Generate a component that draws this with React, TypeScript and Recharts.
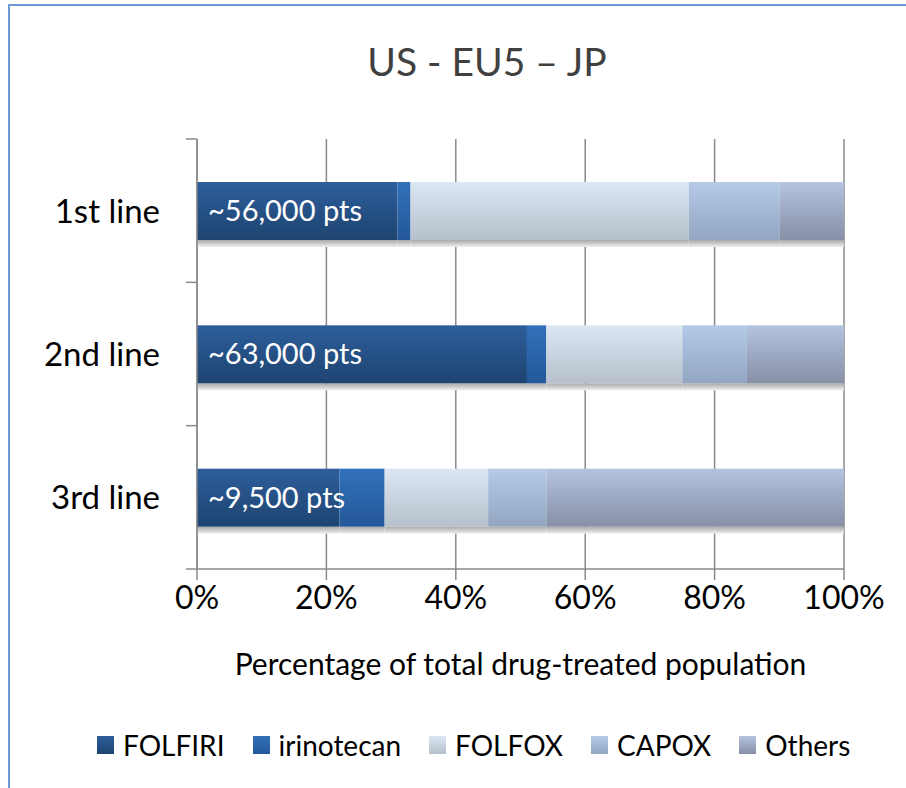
import React from "react";
import { BarChart, Bar, XAxis, YAxis, CartesianGrid, LabelList, Label } from "recharts";

const categories = ["1st line", "2nd line", "3rd line"];
const folfiri = [31, 51, 22];
const irinotecan = [2, 3, 7];
const folfox = [43, 21, 16];
const capox = [14, 10, 9];
const others = [10, 15, 46];
const patientLabels = ["~56,000 pts", "~63,000 pts", "~9,500 pts"];
const xTicks = [0, 20, 40, 60, 80, 100];

const seriesNames = ["FOLFIRI", "irinotecan", "FOLFOX", "CAPOX", "Others"];
const seriesKeys = ["folfiri", "irinotecan", "folfox", "capox", "others"];
const gradients: [string, string][] = [
  ["#2d5e9c", "#1e4470"],
  ["#3171ba", "#24589a"],
  ["#dde7f4", "#b6c0cb"],
  ["#b4cae7", "#92a6c1"],
  ["#b5c3e0", "#868fa6"],
];

const data = categories.map((name, i) => ({
  name,
  folfiri: folfiri[i],
  irinotecan: irinotecan[i],
  folfox: folfox[i],
  capox: capox[i],
  others: others[i],
  label: patientLabels[i],
}));

const FONT = "Lato, 'Open Sans', sans-serif";
const W = 906;
const H = 788;
const PLOT_LEFT = 197;
const PLOT_TOP = 139;
const PLOT_RIGHT = 844;
const PLOT_BOTTOM = 569;
const Y_AXIS_W = 150;
const X_AXIS_H = 60;
const BAND = (PLOT_BOTTOM - PLOT_TOP) / categories.length;
const GRID = "#8a8a8a";

const BarShape = (idx: number) => (props: any) => {
  const { x, y, width, height } = props;
  if (!width || width <= 0) return <g />;
  return (
    <g>
      <rect x={x} y={y + height} width={width} height={7} fill="url(#shadowGrad)" />
      <rect x={x} y={y} width={width} height={height} fill={`url(#grad${idx})`} />
    </g>
  );
};

const YTick = (props: any) => {
  const { y, payload, index } = props;
  const top = y - BAND / 2;
  return (
    <g>
      <line x1={PLOT_LEFT - 11} x2={PLOT_LEFT} y1={top} y2={top} stroke={GRID} strokeWidth={1.5} />
      {index === categories.length - 1 && (
        <line x1={PLOT_LEFT - 11} x2={PLOT_LEFT} y1={top + BAND} y2={top + BAND} stroke={GRID} strokeWidth={1.5} />
      )}
      <text x={160} y={y + 12} textAnchor="end" fontSize={33} fontFamily={FONT} fill="#000">
        {payload.value}
      </text>
    </g>
  );
};

const PtsLabel = (props: any) => {
  const { x, y, height, index } = props;
  return (
    <text x={x + 11} y={y + height / 2 + 10} fontSize={29} fontFamily={FONT} fill="#ffffff">
      {patientLabels[index]}
    </text>
  );
};

const LegendBlock = () => (
  <div
    style={{
      position: "absolute",
      left: 97,
      top: 728,
      display: "flex",
      alignItems: "center",
      fontFamily: FONT,
      fontSize: 28,
      color: "#000",
      whiteSpace: "nowrap",
    }}
  >
    {seriesNames.map((n, i) => (
      <div key={n} style={{ display: "flex", alignItems: "center", marginRight: 28 }}>
        <div
          style={{
            width: 17,
            height: 18,
            marginRight: 9,
            background: `linear-gradient(${gradients[i][0]}, ${gradients[i][1]})`,
          }}
        />
        <span>{n}</span>
      </div>
    ))}
  </div>
);

export default function App() {
  return (
    <div style={{ position: "absolute", left: 0, top: 0, width: W, height: H, overflow: "hidden", background: "#fff" }}>
      <div
        style={{
          position: "absolute",
          left: 8,
          top: 4,
          width: W - 8,
          height: H - 4,
          borderLeft: "2px solid #6c98d6",
          borderTop: "2px solid #6c98d6",
          boxSizing: "border-box",
        }}
      />
      <div
        style={{
          position: "absolute",
          left: 0,
          width: 974,
          top: 38,
          textAlign: "center",
          fontFamily: FONT,
          fontSize: 39,
          color: "#404040",
        }}
      >
        US - EU5 – JP
      </div>
      <div style={{ position: "absolute", left: 0, top: 0 }}>
        <BarChart
          width={W}
          height={H}
          data={data}
          layout="vertical"
          barSize={58}
          margin={{
            top: PLOT_TOP,
            left: PLOT_LEFT - Y_AXIS_W,
            right: W - PLOT_RIGHT,
            bottom: H - PLOT_BOTTOM - X_AXIS_H,
          }}
        >
          <defs>
            {gradients.map((g, i) => (
              <linearGradient key={i} id={`grad${i}`} x1="0" y1="0" x2="0" y2="1">
                <stop offset="0%" stopColor={g[0]} />
                <stop offset="100%" stopColor={g[1]} />
              </linearGradient>
            ))}
            <linearGradient id="shadowGrad" x1="0" y1="0" x2="0" y2="1">
              <stop offset="0%" stopColor="#a8a8a8" />
              <stop offset="100%" stopColor="#f0f0f0" />
            </linearGradient>
          </defs>
          <CartesianGrid horizontal={false} stroke={GRID} strokeWidth={1.5} />
          <XAxis
            type="number"
            domain={[0, 100]}
            ticks={xTicks}
            tickFormatter={(v: number) => `${v}%`}
            height={X_AXIS_H}
            stroke={GRID}
            strokeWidth={1.5}
            tickSize={11}
            tickMargin={6}
            tick={{ fill: "#000", fontSize: 32, fontFamily: FONT }}
          >
            <Label
              value="Percentage of total drug-treated population"
              position="bottom"
              offset={25}
              style={{ fill: "#000", fontSize: 30, fontFamily: FONT }}
            />
          </XAxis>
          <YAxis
            type="category"
            dataKey="name"
            width={Y_AXIS_W}
            stroke={GRID}
            strokeWidth={1.5}
            tickLine={false}
            tick={<YTick />}
          />
          {seriesKeys.map((k, i) => (
            <Bar
              key={k}
              dataKey={k}
              name={seriesNames[i]}
              stackId="a"
              fill={gradients[i][0]}
              isAnimationActive={false}
              shape={BarShape(i)}
            >
              {i === 0 && <LabelList dataKey="label" content={<PtsLabel />} />}
            </Bar>
          ))}
        </BarChart>
      </div>
      <LegendBlock />
    </div>
  );
}
